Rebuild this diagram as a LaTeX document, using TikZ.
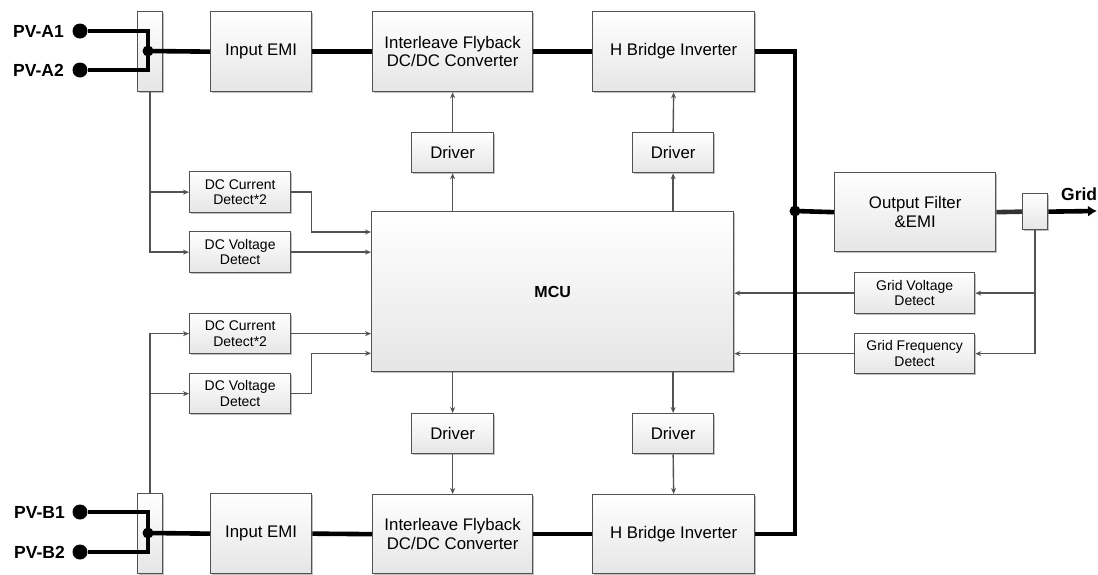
\documentclass[tikz,border=0pt]{standalone}
\usepackage{fontspec}
\setmainfont{Liberation Sans}
\usetikzlibrary{arrows.meta,shadows,calc}
\begin{document}
\begin{tikzpicture}[x=1pt,y=-1pt,
  box/.style={draw=black!68, line width=1.3pt, top color=white, bottom color=black!10,
    inner sep=0pt, align=center, anchor=north west,
    drop shadow={shadow xshift=1.3pt, shadow yshift=-1.3pt, opacity=0.25, fill=black}},
  big/.style={box, font=\fontsize{16.8}{18.5}\selectfont},
  small/.style={box, font=\fontsize{14}{15.5}\selectfont},
  jbox/.style={box},
  pvdot/.style={circle, fill=black, minimum size=15pt, inner sep=0pt},
  jdot/.style={circle, fill=black, minimum size=11pt, inner sep=0pt},
  lab/.style={font=\bfseries\fontsize{17.5}{19}\selectfont, inner sep=0pt},
  bus/.style={line width=4.6pt, draw=black},
  arr/.style={draw=black!68, line width=1.4pt, -{Stealth[length=6pt,width=5pt]}},
  thin/.style={draw=black!68, line width=1.4pt}]
\useasboundingbox (0,0) rectangle (1098,574);

% top row
\node[jbox, minimum width=25pt, minimum height=80pt] (jbA) at (137,11) {};
\node[big, minimum width=101pt, minimum height=80pt] (emiA) at (210,11) {Input EMI};
\node[big, minimum width=160pt, minimum height=80pt] (ifA) at (372,11) {Interleave Flyback\\DC/DC Converter};
\node[big, minimum width=162pt, minimum height=80pt] (hbA) at (592,11) {H Bridge Inverter};
\node[big, minimum width=82pt, minimum height=40pt] (drvA1) at (411,132) {Driver};
\node[big, minimum width=81pt, minimum height=40pt] (drvA2) at (632,132) {Driver};

% MCU
\node[big, minimum width=362pt, minimum height=160pt, font=\bfseries\fontsize{16}{18}\selectfont] (mcu) at (371,211) {MCU};

% detect boxes left
\node[small, minimum width=101pt, minimum height=41pt] (dciA) at (189,171) {DC Current\\Detect*2};
\node[small, minimum width=101pt, minimum height=41pt] (dcvA) at (189,231) {DC Voltage\\Detect};
\node[small, minimum width=101pt, minimum height=40pt] (dciB) at (189,313) {DC Current\\Detect*2};
\node[small, minimum width=101pt, minimum height=40pt] (dcvB) at (189,373) {DC Voltage\\Detect};

% bottom row
\node[big, minimum width=82pt, minimum height=40pt] (drvB1) at (411,413) {Driver};
\node[big, minimum width=81pt, minimum height=40pt] (drvB2) at (632,413) {Driver};
\node[jbox, minimum width=25pt, minimum height=80pt] (jbB) at (137,493) {};
\node[big, minimum width=101pt, minimum height=80pt] (emiB) at (210,493) {Input EMI};
\node[big, minimum width=160pt, minimum height=79pt] (ifB) at (372,494) {Interleave Flyback\\DC/DC Converter};
\node[big, minimum width=162pt, minimum height=79pt] (hbB) at (592,494) {H Bridge Inverter};

% right side
\node[big, minimum width=161pt, minimum height=79pt] (ofb) at (834,172) {Output Filter\\\&EMI};
\node[jbox, minimum width=25pt, minimum height=36pt] (sbx) at (1022,193) {};
\node[small, minimum width=120pt, minimum height=41pt] (gvd) at (854,272) {Grid Voltage\\Detect};
\node[small, minimum width=120pt, minimum height=40pt] (gfd) at (854,333) {Grid Frequency\\Detect};

% PV terminals
\node[pvdot] (a1) at (80,31) {};
\node[pvdot] (a2) at (80,70) {};
\node[pvdot] (b1) at (80,512) {};
\node[pvdot] (b2) at (80,552) {};
\node[lab, anchor=east] (la1) at (64,31) {PV-A1};
\node[lab, anchor=east] (la2) at (64,70) {PV-A2};
\node[lab, anchor=east] (lb1) at (65,512) {PV-B1};
\node[lab, anchor=east] (lb2) at (65,552) {PV-B2};
\node[lab, anchor=south west] (lgrid) at (1061,201) {Grid};

\coordinate (ja) at (148,51);
\coordinate (jb) at (148,533);
\coordinate (busj) at (795,211);
\coordinate (gridend) at (1097,211);

% thin signal lines
\draw[arr] (jbA.south) |- (dcvA.west);
\draw[arr] (jbA.south |- dciA.west) -- (dciA.west);
\draw[arr] (dciA.east) -- ++(20,0) |- ($(mcu.north west)+(0,21)$);
\draw[arr] (dcvA.east) -- (mcu.west |- dcvA.east);
\draw[arr] (jbB.north) |- (dciB.west);
\draw[arr] (jbB.north |- dcvB.west) -- (dcvB.west);
\draw[arr] (dciB.east) -- (mcu.west |- dciB.east);
\draw[arr] (dcvB.east) -- ++(20,0) |- ($(mcu.south west)+(0,-19)$);

\draw[arr] (mcu.north -| drvA1) -- (drvA1.south);
\draw[arr] (drvA1.north) -- (ifA.south);
\draw[arr] (mcu.north -| drvA2) -- (drvA2.south);
\draw[arr] (drvA2.north) -- (hbA.south);
\draw[arr] (mcu.south -| drvB1) -- (drvB1.north);
\draw[arr] (drvB1.south) -- (ifB.north);
\draw[arr] (mcu.south -| drvB2) -- (drvB2.north);
\draw[arr] (drvB2.south) -- (hbB.north);

\draw[arr] (sbx.south) |- (gfd.east);
\draw[arr] (sbx.south |- gvd.east) -- (gvd.east);
\draw[arr] (gvd.west) -- (mcu.east |- gvd.west);
\draw[arr] (gfd.west) -- (mcu.east |- gfd.west);

% power lines
\draw[bus] (a1) -| (ja) |- (a2);
\draw[bus] (ja) -- (emiA.west);
\draw[bus] (emiA.east) -- (ifA.west);
\draw[bus] (ifA.east) -- (hbA.west);
\draw[bus] (b1) -| (jb) |- (b2);
\draw[bus] (jb) -- (emiB.west);
\draw[bus] (emiB.east) -- (ifB.west);
\draw[bus] (ifB.east) -- (hbB.west);
\draw[bus] (hbA.east) -| (busj) |- (hbB.east);
\draw[bus] (busj) -- (ofb.west);
\draw[bus, draw=black!80] (ofb.east) -- (sbx.west);
\draw[bus, -{Latex[length=9pt,width=11pt]}] (sbx.east) -- (gridend);

\node[jdot] (dja) at (ja) {};
\node[jdot] (djb) at (jb) {};
\node[jdot] (dbus) at (busj) {};
\end{tikzpicture}
\end{document}
